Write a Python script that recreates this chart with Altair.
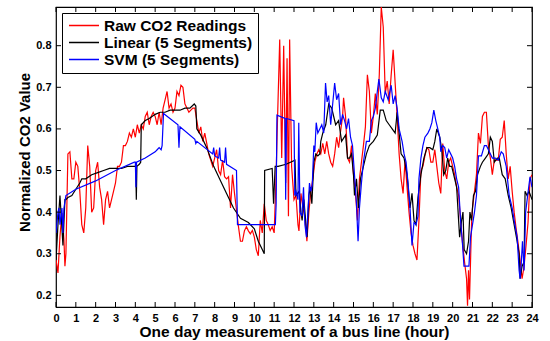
import altair as alt
import pandas as pd

SERIES = ["Raw CO2 Readings", "Linear (5 Segments)", "SVM (5 Segments)"]
COLORS = ["#ff0000", "#000000", "#0000ff"]
x_ticks = list(range(0, 25))
y_ticks = [0.2, 0.3, 0.4, 0.5, 0.6, 0.7, 0.8]

red_hours = [0.0, 0.1, 0.2, 0.3, 0.4, 0.45, 0.5, 0.6, 0.7, 0.8, 0.9, 1.0, 1.1, 1.2, 1.3, 1.4, 1.5, 1.6, 1.7, 1.8, 1.9,
             2.0, 2.1, 2.2, 2.3, 2.4, 2.5, 2.6, 2.7, 2.8, 2.9, 3.0, 3.1, 3.2, 3.3, 3.4, 3.5, 3.6, 3.7, 3.8, 3.9,
             4.0, 4.1, 4.2, 4.3, 4.4, 4.5, 4.6, 4.7, 4.8, 4.9, 5.0, 5.1, 5.2, 5.3, 5.4, 5.5, 5.6, 5.7, 5.8, 5.9,
             6.0, 6.1, 6.2, 6.3, 6.4, 6.5, 6.6, 6.7, 6.8, 6.9, 7.0, 7.1, 7.2, 7.3, 7.4, 7.5, 7.6, 7.7, 7.8, 7.9,
             8.0, 8.1, 8.2, 8.3, 8.4, 8.5, 8.6, 8.7, 8.8, 8.9, 9.0, 9.1, 9.2, 9.3, 9.4, 9.5, 9.6, 9.7, 9.8, 9.9,
             10.0, 10.1, 10.2, 10.3, 10.4, 10.5, 10.6, 10.7, 10.8, 10.9, 11.0, 11.1, 11.15, 11.28, 11.38, 11.48,
             11.58, 11.65, 11.72, 11.78, 11.88, 12.0, 12.1, 12.2, 12.25, 12.35, 12.45, 12.55, 12.65, 12.75, 12.85,
             12.95, 13.05, 13.15, 13.25, 13.35, 13.45, 13.55, 13.65, 13.75, 13.85, 13.95, 14.05, 14.15, 14.25,
             14.35, 14.45, 14.5, 14.6, 14.7, 14.8, 14.9, 15.0, 15.1, 15.2, 15.3, 15.4, 15.5, 15.6, 15.7, 15.8,
             15.9, 16.0, 16.1, 16.2, 16.3, 16.4, 16.5, 16.6, 16.7, 16.8, 16.9, 17.0, 17.1, 17.2, 17.3, 17.4,
             17.5, 17.6, 17.7, 17.8, 17.9, 18.0, 18.1, 18.2, 18.3, 18.4, 18.5, 18.6, 18.7, 18.8, 18.9, 19.0,
             19.1, 19.2, 19.3, 19.4, 19.5, 19.6, 19.7, 19.8, 19.9, 20.0, 20.1, 20.2, 20.3, 20.4, 20.5, 20.6,
             20.7, 20.75, 20.8, 20.85, 20.95, 21.0, 21.1, 21.2, 21.3, 21.4, 21.5, 21.6, 21.7, 21.8, 21.9, 22.0,
             22.1, 22.2, 22.3, 22.4, 22.5, 22.6, 22.7, 22.8, 22.9, 23.0, 23.1, 23.2, 23.3, 23.4, 23.5, 23.6,
             23.7, 23.8, 23.9, 24.0]
red_values = [0.286, 0.254, 0.342, 0.398, 0.334, 0.27, 0.30, 0.54, 0.545, 0.48, 0.48, 0.52, 0.51, 0.45, 0.37, 0.35,
              0.41, 0.56, 0.51, 0.40, 0.41, 0.50, 0.52, 0.46, 0.43, 0.37, 0.43, 0.45, 0.41, 0.43, 0.45, 0.47, 0.51,
              0.51, 0.52, 0.56, 0.56, 0.57, 0.59, 0.58, 0.60, 0.58, 0.61, 0.59, 0.61, 0.60, 0.63, 0.64, 0.61, 0.63,
              0.64, 0.63, 0.61, 0.64, 0.61, 0.65, 0.67, 0.69, 0.65, 0.66, 0.64, 0.65, 0.69, 0.68, 0.705, 0.70, 0.66,
              0.65, 0.64, 0.645, 0.65, 0.65, 0.62, 0.59, 0.605, 0.57, 0.59, 0.565, 0.54, 0.525, 0.51, 0.53, 0.55,
              0.50, 0.49, 0.525, 0.485, 0.48, 0.485, 0.41, 0.49, 0.445, 0.405, 0.365, 0.33, 0.33, 0.355, 0.365,
              0.355, 0.348, 0.356, 0.34, 0.31, 0.295, 0.38, 0.35, 0.42, 0.38, 0.37, 0.356, 0.365, 0.35, 0.49, 0.59,
              0.815, 0.53, 0.80, 0.47, 0.77, 0.39, 0.815, 0.51, 0.43, 0.44, 0.37, 0.355, 0.445, 0.41, 0.39, 0.33,
              0.40, 0.45, 0.48, 0.52, 0.54, 0.55, 0.54, 0.565, 0.54, 0.57, 0.54, 0.52, 0.51, 0.54, 0.58, 0.555,
              0.595, 0.63, 0.675, 0.63, 0.53, 0.52, 0.56, 0.49, 0.445, 0.38, 0.48, 0.52, 0.56, 0.605, 0.73, 0.69,
              0.59, 0.63, 0.685, 0.635, 0.73, 0.893, 0.845, 0.685, 0.715, 0.66, 0.73, 0.79, 0.71, 0.63, 0.54, 0.48,
              0.445, 0.525, 0.46, 0.40, 0.35, 0.32, 0.30, 0.285, 0.38, 0.50, 0.51, 0.535, 0.555, 0.55, 0.52, 0.52,
              0.55, 0.51, 0.47, 0.445, 0.565, 0.50, 0.48, 0.52, 0.53, 0.51, 0.49, 0.46, 0.44, 0.38, 0.325, 0.28,
              0.24, 0.175, 0.26, 0.19, 0.37, 0.41, 0.45, 0.49, 0.59, 0.565, 0.63, 0.64, 0.64, 0.56, 0.53, 0.49,
              0.525, 0.525, 0.525, 0.575, 0.58, 0.62, 0.54, 0.48, 0.51, 0.45, 0.40, 0.36, 0.325, 0.285, 0.24, 0.27,
              0.32, 0.375, 0.48, 0.49]

linear_hours = [0.0, 0.1, 0.2, 0.25, 0.35, 0.45, 0.5, 0.6, 0.8, 1.0, 1.2, 1.3, 1.5, 1.8, 2.1, 2.4, 2.7, 3.0, 3.3,
                3.6, 3.9, 4.02, 4.05, 4.08, 4.2, 4.27, 4.3, 4.5, 4.7, 5.0, 5.25, 5.5, 5.75, 6.0, 6.25, 6.5, 6.75,
                6.97, 7.05, 7.1, 7.3, 7.6, 7.95, 8.3, 8.6, 8.95, 9.3, 9.7, 10.0, 10.2, 10.4, 10.5, 10.52, 10.9,
                10.97, 11.05, 11.2, 11.6, 12.05, 12.1, 12.25, 12.35, 12.41, 12.5, 12.55, 12.66, 12.75, 12.82, 12.9,
                13.0, 13.1, 13.2, 13.3, 13.35, 13.45, 13.6, 13.75, 13.9, 14.1, 14.25, 14.4, 14.6, 14.7, 14.8, 14.9,
                15.0, 15.05, 15.15, 15.25, 15.35, 15.5, 15.65, 15.8, 16.0, 16.2, 16.35, 16.5, 16.65, 16.8, 16.95,
                17.1, 17.2, 17.3, 17.4, 17.55, 17.7, 17.85, 17.95, 18.05, 18.15, 18.25, 18.4, 18.55, 18.7, 18.85,
                19.0, 19.1, 19.2, 19.35, 19.45, 19.55, 19.65, 19.75, 19.85, 19.95, 20.05, 20.2, 20.35, 20.45, 20.52,
                20.58, 20.7, 20.8, 20.87, 20.95, 21.05, 21.15, 21.25, 21.4, 21.5, 21.65, 21.8, 21.9, 22.0, 22.1,
                22.25, 22.35, 22.5, 22.65, 22.8, 22.95, 23.1, 23.25, 23.35, 23.4, 23.5, 23.6, 23.65, 23.75, 23.85,
                24.0]
linear_values = [0.285, 0.37, 0.44, 0.40, 0.32, 0.43, 0.43, 0.435, 0.44, 0.455, 0.47, 0.48, 0.48, 0.49, 0.495,
                 0.50, 0.505, 0.505, 0.505, 0.51, 0.51, 0.51, 0.43, 0.51, 0.515, 0.52, 0.61, 0.62, 0.625, 0.635,
                 0.64, 0.64, 0.645, 0.645, 0.645, 0.65, 0.65, 0.66, 0.655, 0.60, 0.585, 0.555, 0.51, 0.475, 0.445,
                 0.41, 0.385, 0.375, 0.36, 0.33, 0.31, 0.30, 0.50, 0.505, 0.42, 0.51, 0.51, 0.515, 0.525, 0.44, 0.45,
                 0.40, 0.38, 0.43, 0.40, 0.34, 0.44, 0.46, 0.42, 0.52, 0.54, 0.535, 0.54, 0.57, 0.59, 0.61, 0.66,
                 0.65, 0.61, 0.62, 0.57, 0.585, 0.53, 0.53, 0.54, 0.49, 0.44, 0.48, 0.41, 0.48, 0.51, 0.54, 0.56,
                 0.57, 0.585, 0.645, 0.645, 0.62, 0.61, 0.60, 0.59, 0.64, 0.59, 0.54, 0.53, 0.49, 0.41, 0.445, 0.38,
                 0.37, 0.435, 0.49, 0.53, 0.555, 0.555, 0.55, 0.57, 0.60, 0.58, 0.55, 0.49, 0.50, 0.53, 0.51, 0.51,
                 0.49, 0.46, 0.34, 0.38, 0.40, 0.31, 0.30, 0.33, 0.40, 0.38, 0.44, 0.45, 0.49, 0.51, 0.52, 0.53,
                 0.54, 0.58, 0.57, 0.52, 0.53, 0.53, 0.49, 0.48, 0.44, 0.41, 0.37, 0.33, 0.30, 0.24, 0.27, 0.28,
                 0.45, 0.44, 0.45, 0.43]

svm_hours = [0.0, 0.1, 0.15, 0.2, 0.3, 0.35, 0.4, 0.5, 1.0, 2.0, 3.0, 3.95, 4.0, 4.03, 4.06, 4.5, 5.0, 5.1, 5.2,
             5.3, 5.35, 5.42, 6.15, 6.2, 6.25, 7.0, 7.05, 7.1, 7.9, 7.95, 8.0, 8.2, 8.25, 8.3, 8.5, 8.55, 8.6, 9.1,
             9.15, 11.06, 11.1, 11.14, 11.55, 11.58, 11.62, 12.0, 12.04, 12.1, 12.2, 12.24, 12.3, 12.4, 12.48,
             12.55, 12.63, 12.7, 12.78, 12.85, 12.92, 13.0, 13.05, 13.12, 13.2, 13.3, 13.4, 13.5, 13.59, 13.67,
             13.75, 13.85, 13.95, 14.05, 14.15, 14.25, 14.35, 14.45, 14.55, 14.65, 14.75, 14.85, 14.95, 15.05,
             15.15, 15.23, 15.3, 15.4, 15.5, 15.65, 15.8, 15.9, 16.0, 16.1, 16.2, 16.28, 16.4, 16.5, 16.6, 16.75,
             16.9, 17.0, 17.1, 17.2, 17.3, 17.45, 17.55, 17.65, 17.75, 17.85, 17.95, 18.05, 18.15, 18.25, 18.3,
             18.4, 18.5, 18.6, 18.75, 18.85, 18.95, 19.05, 19.15, 19.25, 19.35, 19.4, 19.5, 19.6, 19.7, 19.8,
             19.9, 20.0, 20.1, 20.2, 20.3, 20.4, 20.5, 20.57, 20.82, 20.9, 21.0, 21.1, 21.2, 21.3, 21.45, 21.6,
             21.7, 21.85, 22.0, 22.15, 22.3, 22.45, 22.55, 22.7, 22.85, 23.0, 23.1, 23.25, 23.35, 23.4, 23.45,
             23.52, 23.6, 23.68, 23.78, 23.9, 24.0]
svm_values = [0.35, 0.40, 0.41, 0.37, 0.41, 0.35, 0.41, 0.44, 0.455, 0.475, 0.50, 0.52, 0.52, 0.46, 0.52, 0.53,
              0.545, 0.55, 0.555, 0.55, 0.56, 0.637, 0.61, 0.555, 0.605, 0.575, 0.565, 0.57, 0.54, 0.555, 0.535,
              0.53, 0.555, 0.525, 0.52, 0.555, 0.515, 0.50, 0.37, 0.37, 0.42, 0.633, 0.625, 0.43, 0.625, 0.62,
              0.44, 0.45, 0.43, 0.615, 0.40, 0.39, 0.46, 0.37, 0.34, 0.40, 0.47, 0.45, 0.465, 0.56, 0.545, 0.615,
              0.59, 0.60, 0.61, 0.59, 0.71, 0.665, 0.68, 0.61, 0.66, 0.71, 0.67, 0.685, 0.61, 0.635, 0.62, 0.60,
              0.625, 0.58, 0.56, 0.49, 0.42, 0.33, 0.41, 0.47, 0.52, 0.57, 0.57, 0.62, 0.63, 0.65, 0.69, 0.72,
              0.675, 0.665, 0.69, 0.67, 0.705, 0.66, 0.68, 0.65, 0.60, 0.57, 0.54, 0.52, 0.47, 0.41, 0.32, 0.375,
              0.37, 0.39, 0.48, 0.53, 0.56, 0.58, 0.59, 0.60, 0.615, 0.645, 0.62, 0.60, 0.58, 0.545, 0.56, 0.555,
              0.53, 0.55, 0.54, 0.53, 0.51, 0.48, 0.46, 0.38, 0.32, 0.27, 0.27, 0.34, 0.37, 0.40, 0.44, 0.535,
              0.535, 0.56, 0.56, 0.545, 0.53, 0.53, 0.525, 0.545, 0.54, 0.51, 0.44, 0.41, 0.38, 0.34, 0.26, 0.24,
              0.27, 0.33, 0.26, 0.40, 0.44, 0.485, 0.46]


def frame(hours, values, name):
    return pd.DataFrame({"hour": hours, "value": values, "series": name})


FONT = "Liberation Sans"
xscale = alt.Scale(domain=[0, 24], nice=False, zero=False)
yscale = alt.Scale(domain=[0.172, 0.893], nice=False, zero=False)

x_axis = alt.Axis(values=x_ticks, format="d", title="One day measurement of a bus line (hour)",
                  ticks=False, domain=False, grid=False, labelPadding=5, labelFontSize=11,
                  labelFontWeight="bold", labelFont=FONT, labelColor="black", labelFlush=False,
                  labelOverlap=False, titleFont=FONT, titleFontSize=15.5, titleFontWeight="bold",
                  titleColor="black", titleX=238, titleY=29.5, titleBaseline="alphabetic")
y_axis = alt.Axis(values=y_ticks, format=".1f", title="Normalized CO2 Value",
                  ticks=False, domain=False, grid=False, labelPadding=5, labelFontSize=11,
                  labelFontWeight="bold", labelFont=FONT, labelColor="black", labelFlush=False,
                  labelOverlap=False, titleFont=FONT, titleFontSize=15, titleFontWeight="bold",
                  titleColor="black", titleX=-27, titleY=145, titleAngle=-90, titleAlign="center",
                  titleBaseline="alphabetic")

X = alt.X("hour:Q", scale=xscale, axis=x_axis)
Y = alt.Y("value:Q", scale=yscale, axis=y_axis)

color = alt.Color("series:N", sort=SERIES,
                  scale=alt.Scale(domain=SERIES, range=COLORS),
                  legend=alt.Legend(title=None, orient="none", legendX=6, legendY=6,
                                    strokeColor="black", fillColor="white", padding=5,
                                    symbolType="stroke", symbolSize=900, symbolStrokeWidth=1.3,
                                    symbolOffset=1, clipHeight=15, rowPadding=1, labelOffset=4,
                                    labelFont=FONT, labelFontSize=15.5, labelFontWeight="bold",
                                    labelColor="black", labelLimit=300, cornerRadius=0))


def series_layer(df):
    return alt.Chart(df).mark_line(strokeWidth=1.2, clip=True).encode(x=X, y=Y, color=color)


red_layer = series_layer(frame(red_hours, red_values, SERIES[0]))
lin_layer = series_layer(frame(linear_hours, linear_values, SERIES[1]))
svm_layer = series_layer(frame(svm_hours, svm_values, SERIES[2]))

xt = pd.DataFrame({"hour": x_ticks})
yt = pd.DataFrame({"value": y_ticks})
bottom_ticks = alt.Chart(xt).mark_rule(color="black", strokeWidth=1).encode(
    x=X, y=alt.value(300), y2=alt.value(295))
top_ticks = alt.Chart(xt).mark_rule(color="black", strokeWidth=1).encode(
    x=X, y=alt.value(0), y2=alt.value(5))
left_ticks = alt.Chart(yt).mark_rule(color="black", strokeWidth=1).encode(
    y=Y, x=alt.value(0), x2=alt.value(5))
right_ticks = alt.Chart(yt).mark_rule(color="black", strokeWidth=1).encode(
    y=Y, x=alt.value(476), x2=alt.value(471))

chart = alt.layer(
    red_layer, lin_layer, svm_layer, bottom_ticks, top_ticks, left_ticks, right_ticks
).properties(
    width=476, height=300,
    padding={"left": 56, "top": 7, "right": 18, "bottom": 34},
    autosize=alt.AutoSizeParams(type="none"),
    background="white",
).configure_view(stroke="black", strokeWidth=1.2)

chart.save("out.html", embed_options={"renderer": "svg", "actions": False})
